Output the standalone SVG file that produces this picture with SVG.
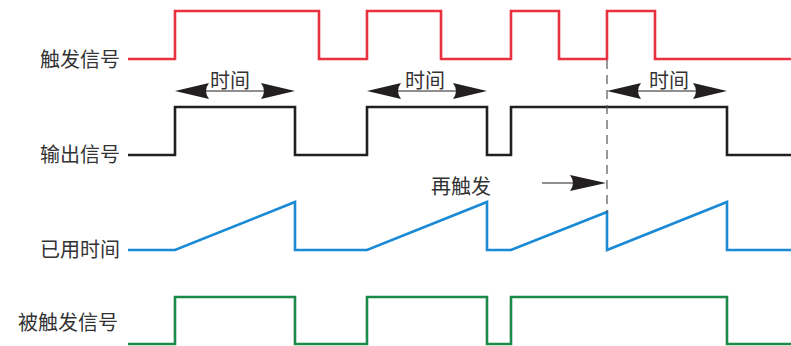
<svg xmlns="http://www.w3.org/2000/svg" width="791" height="346" viewBox="0 0 791 346">
<style>
.sig{fill:none;stroke-width:2.6;stroke-linejoin:miter}
.lbl{font-family:"Noto Sans CJK SC","Noto Sans CJK JP",sans-serif;font-size:20px;fill:#333}
.dim{stroke:#231f20;stroke-width:1.2;fill:none}
.head{fill:#231f20}
</style>
<rect width="791" height="346" fill="#fff"/>
<g id="labels">
<text class="lbl" x="120" y="67" text-anchor="end">触发信号</text>
<text class="lbl" x="120" y="162" text-anchor="end">输出信号</text>
<text class="lbl" x="120" y="257" text-anchor="end">已用时间</text>
<text class="lbl" x="118" y="330" text-anchor="end">被触发信号</text>
</g>
<g id="connectors">
<path id="trigger" class="sig" stroke="#e8303f" d="M128 59 H175 V11 H319 V59 H367 V11 H441 V59 H511 V11 H559 V59 H607 V11 H655 V59 H791"/>
<path id="output" class="sig" stroke="#231f20" d="M128 155 H175 V107 H295 V155 H367 V107 H487 V155 H511 V107 H727 V155 H791"/>
<path id="elapsed" class="sig" stroke="#1a8ad4" d="M128 250 H175 L295 202 V250 H367 L487 202 V250 H511 L607 212 V250 L727 202 V250 H791"/>
<path id="triggered" class="sig" stroke="#1a8a4a" d="M128 344 H175 V297 H295 V344 H367 V297 H487 V344 H511 V297 H727 V344 H791"/>
<line x1="607" y1="60" x2="607" y2="213" stroke="#555" stroke-width="1.2" stroke-dasharray="9 6"/>
</g>
<g id="dim1">
<line class="dim" x1="200" y1="91" x2="270" y2="91"/>
<path class="head" d="M175 91 L209 83 Q203 91 209 99 Z"/>
<path class="head" d="M295 91 L261 83 Q267 91 261 99 Z"/>
<text class="lbl" x="230" y="88" text-anchor="middle">时间</text>
</g>
<g id="dim2">
<line class="dim" x1="392" y1="91" x2="462" y2="91"/>
<path class="head" d="M367 91 L401 83 Q395 91 401 99 Z"/>
<path class="head" d="M487 91 L453 83 Q459 91 453 99 Z"/>
<text class="lbl" x="425" y="88" text-anchor="middle">时间</text>
</g>
<g id="dim3">
<line class="dim" x1="632" y1="91" x2="702" y2="91"/>
<path class="head" d="M607 91 L641 83 Q635 91 641 99 Z"/>
<path class="head" d="M727 91 L693 83 Q699 91 693 99 Z"/>
<text class="lbl" x="669" y="88" text-anchor="middle">时间</text>
</g>
<g id="retrigger">
<text class="lbl" x="461" y="194" text-anchor="middle">再触发</text>
<line class="dim" x1="542" y1="183" x2="580" y2="183"/>
<path class="head" d="M606 183 L570 175 Q576 183 570 191 Z"/>
</g>
</svg>
